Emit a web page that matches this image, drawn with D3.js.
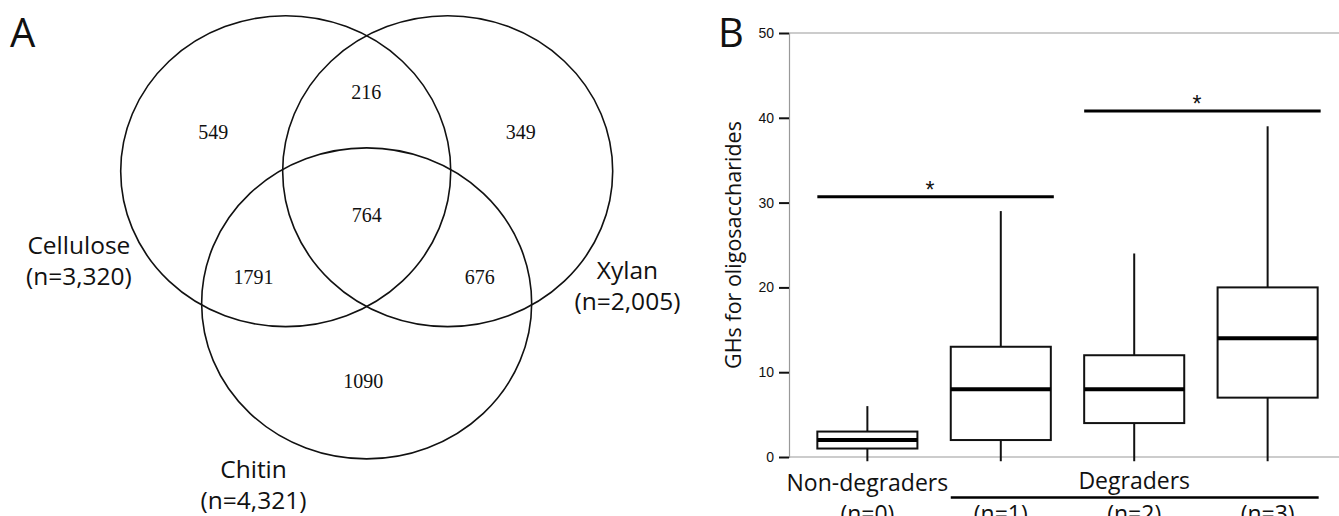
<!DOCTYPE html>
<html>
<head>
<meta charset="utf-8">
<script src="https://cdn.jsdelivr.net/npm/d3@7"></script>
<style>
  body { margin: 0; background: #fff; }
  svg { display: block; }
</style>
</head>
<body>
<div id="chart"></div>
<script>
// ---- panel A data: Venn of GH families per substrate
const vennSets = ["Cellulose", "Xylan", "Chitin"];
const vennTotals = ["n=3,320", "n=2,005", "n=4,321"];
const vennRegions = ["549", "216", "349", "764", "1791", "676", "1090"];

// ---- panel B data: boxplots
const groups = ["n=0", "n=1", "n=2", "n=3"];
const whiskerLow = [-0.5, -0.5, -0.5, -0.5];
const q1 = [1, 2, 4, 7];
const median = [2, 8, 8, 14];
const q3 = [3, 13, 12, 20];
const whiskerHigh = [6, 29, 24, 39];
const yTicks = [0, 10, 20, 30, 40, 50];
// significance bars: [from group, to group, value]
const sigBars = [["n=0", "n=1", 30.7], ["n=2", "n=3", 40.8]];

const width = 1339, height = 516;

const svg = d3.select("#chart").append("svg")
    .attr("width", width)
    .attr("height", height)
    .attr("viewBox", [0, 0, width, height]);

const sans = "'Open Sans', 'DejaVu Sans', sans-serif";

// ================= Panel A =================
// layout in a unit space, mapped onto the page through scales
const vx = d3.scaleLinear().domain([0, 1]).range([120.7, 612.7]);
const vy = d3.scaleLinear().domain([0, 1]).range([15.7, 458.3]);
const rx = 0.3354, ry = 0.3513;   // ellipse radii in unit space

const vennLayout = [
  {cx: 0.3354, cy: 0.3513},
  {cx: 0.6646, cy: 0.3513},
  {cx: 0.4999, cy: 0.6500}
];

const a = svg.append("g");

a.append("text")
    .attr("x", 10)
    .attr("y", 47)
    .attr("font-family", sans)
    .attr("font-size", 40)
    .attr("fill", "#111")
    .text("A");

a.selectAll("ellipse")
  .data(vennLayout)
  .join("ellipse")
    .attr("cx", d => vx(d.cx))
    .attr("cy", d => vy(d.cy))
    .attr("rx", vx(rx) - vx(0))
    .attr("ry", vy(ry) - vy(0))
    .attr("fill", "none")
    .attr("stroke", "#111")
    .attr("stroke-width", 1.6);

// region label positions (unit space)
const regionPos = [
  [0.188, 0.279], [0.499, 0.189], [0.813, 0.279], [0.500, 0.467],
  [0.270, 0.606], [0.730, 0.606], [0.493, 0.841]
];

a.selectAll(".region")
  .data(vennRegions)
  .join("text")
    .attr("class", "region")
    .attr("x", (d, i) => vx(regionPos[i][0]))
    .attr("y", (d, i) => vy(regionPos[i][1]))
    .attr("text-anchor", "middle")
    .attr("font-family", "'Liberation Serif', 'Times New Roman', serif")
    .attr("font-size", 20)
    .attr("fill", "#111")
    .text(d => d);

const setLabelPos = [[-0.085, 0.538], [1.03, 0.596], [0.270, 1.045]];

const setLabels = a.selectAll(".setlabel")
  .data(vennSets)
  .join("text")
    .attr("class", "setlabel")
    .attr("x", (d, i) => vx(setLabelPos[i][0]))
    .attr("y", (d, i) => vy(setLabelPos[i][1]))
    .attr("text-anchor", "middle")
    .attr("font-family", sans)
    .attr("font-size", 24.5)
    .attr("fill", "#111");
setLabels.append("tspan").text(d => d);
setLabels.append("tspan")
    .attr("x", (d, i) => vx(setLabelPos[i][0]))
    .attr("dy", 31)
    .text((d, i) => `(${vennTotals[i]})`);

// ================= Panel B =================
const margin = {top: 33, left: 789, bottom: 457};

const x = d3.scaleBand()
    .domain(groups)
    .range([804, 1331])
    .paddingInner(0.25)
    .paddingOuter(0.1);

const y = d3.scaleLinear()
    .domain([0, 50])
    .range([margin.bottom, margin.top]);

const b = svg.append("g");

b.append("text")
    .attr("x", 718)
    .attr("y", 47)
    .attr("font-family", sans)
    .attr("font-size", 40)
    .attr("fill", "#111")
    .text("B");

// frame lines (top and bottom)
b.selectAll(".frame")
  .data([50, 0])
  .join("line")
    .attr("class", "frame")
    .attr("x1", margin.left)
    .attr("x2", width)
    .attr("y1", d => y(d))
    .attr("y2", d => y(d))
    .attr("stroke", "#999")
    .attr("stroke-width", 1.2);

b.append("g")
    .attr("transform", `translate(${margin.left},0)`)
    .call(d3.axisLeft(y).tickValues(yTicks).tickSize(10).tickPadding(5))
    .call(g => g.select(".domain").attr("stroke", "#999").attr("stroke-width", 1.2))
    .call(g => g.selectAll(".tick line").attr("stroke", "#111").attr("stroke-width", 2))
    .call(g => g.selectAll(".tick text")
      .attr("font-family", "'Liberation Sans', Arial, sans-serif")
      .attr("font-size", 14)
      .attr("fill", "#111"));

b.append("text")
    .attr("transform", `translate(741,245) rotate(-90)`)
    .attr("text-anchor", "middle")
    .attr("font-family", sans)
    .attr("font-size", 21.5)
    .attr("fill", "#111")
    .text("GHs for oligosaccharides");

const boxes = groups.map((g, i) => ({
  g, lo: whiskerLow[i], q1: q1[i], med: median[i], q3: q3[i], hi: whiskerHigh[i]
}));

const bx = b.selectAll(".box")
  .data(boxes)
  .join("g")
    .attr("class", "box");

// whiskers
bx.append("line")
    .attr("x1", d => x(d.g) + x.bandwidth() / 2)
    .attr("x2", d => x(d.g) + x.bandwidth() / 2)
    .attr("y1", d => y(d.q3))
    .attr("y2", d => y(d.hi))
    .attr("stroke", "#111")
    .attr("stroke-width", 2);
bx.append("line")
    .attr("x1", d => x(d.g) + x.bandwidth() / 2)
    .attr("x2", d => x(d.g) + x.bandwidth() / 2)
    .attr("y1", d => y(d.q1))
    .attr("y2", d => y(d.lo))
    .attr("stroke", "#111")
    .attr("stroke-width", 2);

bx.append("rect")
    .attr("x", d => x(d.g))
    .attr("width", x.bandwidth())
    .attr("y", d => y(d.q3))
    .attr("height", d => y(d.q1) - y(d.q3))
    .attr("fill", "#fff")
    .attr("stroke", "#111")
    .attr("stroke-width", 2);

bx.append("line")
    .attr("x1", d => x(d.g))
    .attr("x2", d => x(d.g) + x.bandwidth())
    .attr("y1", d => y(d.med))
    .attr("y2", d => y(d.med))
    .attr("stroke", "#000")
    .attr("stroke-width", 4);

// significance bars
const sg = b.selectAll(".sig")
  .data(sigBars)
  .join("g")
    .attr("class", "sig");
sg.append("line")
    .attr("x1", d => x(d[0]))
    .attr("x2", d => x(d[1]) + x.bandwidth() + 3)
    .attr("y1", d => y(d[2]))
    .attr("y2", d => y(d[2]))
    .attr("stroke", "#000")
    .attr("stroke-width", 3);
sg.append("text")
    .attr("x", d => (x(d[0]) + x(d[1]) + x.bandwidth()) / 2 - 4)
    .attr("y", d => y(d[2]) + 1)
    .attr("text-anchor", "middle")
    .attr("font-family", "'Liberation Sans', Arial, sans-serif")
    .attr("font-size", 23)
    .attr("fill", "#111")
    .text("*");

// category labels under the axis
b.append("text")
    .attr("x", x("n=0") + x.bandwidth() / 2)
    .attr("y", 491)
    .attr("text-anchor", "middle")
    .attr("font-family", sans)
    .attr("font-size", 23)
    .attr("fill", "#111")
    .text("Non-degraders");

b.append("text")
    .attr("x", x("n=2") + x.bandwidth() / 2)
    .attr("y", 489)
    .attr("text-anchor", "middle")
    .attr("font-family", sans)
    .attr("font-size", 23)
    .attr("fill", "#111")
    .text("Degraders");

b.append("line")
    .attr("x1", x("n=1"))
    .attr("x2", x("n=3") + x.bandwidth() + 1)
    .attr("y1", 497.5)
    .attr("y2", 497.5)
    .attr("stroke", "#000")
    .attr("stroke-width", 2.5);

b.selectAll(".nlab")
  .data(groups)
  .join("text")
    .attr("class", "nlab")
    .attr("x", d => x(d) + x.bandwidth() / 2)
    .attr("y", 522)
    .attr("text-anchor", "middle")
    .attr("font-family", sans)
    .attr("font-size", 23)
    .attr("fill", "#111")
    .text(d => `(${d})`);
</script>
</body>
</html>
